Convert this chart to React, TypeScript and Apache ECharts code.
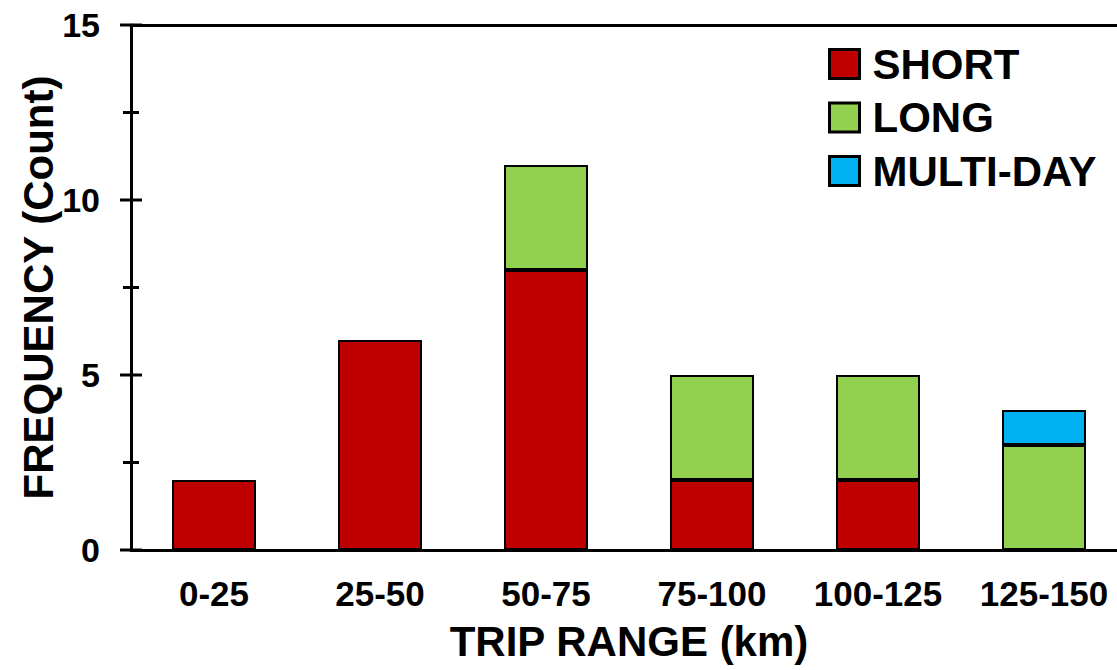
import React, { useEffect, useRef } from "react";
import * as echarts from "echarts";

// Trip-range bins (km) and trip counts per trip type
const categories = ["0-25", "25-50", "50-75", "75-100", "100-125", "125-150"];
const shortTrips = [2, 6, 8, 2, 2, null];
const longTrips = [null, null, 3, 3, 3, 3];
const multiDayTrips = [null, null, null, null, null, 1];

// Y axis range and tick marks (labelled majors, unlabelled minors)
const yMin = 0;
const yMax = 15;
const yInterval = 5;
const majorTicks = [0, 5, 10, 15];
const minorTicks = [2.5, 7.5, 12.5];

const FONT = "'Liberation Sans', Arial, sans-serif";
const AXIS_COLOR = "#000";

const WIDTH = 1117;
const HEIGHT = 670;

export default function App() {
  const ref = useRef<HTMLDivElement>(null);

  useEffect(() => {
    if (!ref.current) return;
    const chart = echarts.init(ref.current, undefined, { renderer: "svg" });

    const barStyle = (color: string) => ({
      color,
      borderColor: "#000",
      borderWidth: 2,
    });

    // [x index, y value, 1 = major]
    const tickData = [
      ...majorTicks.map((v) => [0, v, 1]),
      ...minorTicks.map((v) => [0, v, 0]),
    ];

    chart.setOption({
      animation: false,
      backgroundColor: "#fff",
      textStyle: { fontFamily: FONT, fontWeight: "bold", color: "#000" },
      grid: {
        left: 131,
        right: -10,
        top: 25,
        bottom: 120,
        containLabel: false,
        outerBoundsMode: "none",
      },
      legend: {
        orient: "vertical",
        left: 828,
        top: 43,
        padding: 0,
        itemWidth: 30,
        itemHeight: 29,
        itemGap: 11.5,
        icon: "rect",
        itemStyle: { borderColor: "#000", borderWidth: 3 },
        textStyle: {
          fontFamily: FONT,
          fontWeight: "bold",
          fontSize: 42,
          color: "#000",
          padding: [0, 0, 0, 8],
        },
        data: ["SHORT", "LONG", "MULTI-DAY"],
      },
      xAxis: [
        {
          type: "category",
          data: categories,
          name: "TRIP RANGE (km)",
          nameLocation: "middle",
          nameGap: 70,
          nameMoveOverlap: false,
          nameTextStyle: { fontFamily: FONT, fontWeight: "bold", fontSize: 42, color: "#000" },
          axisLine: { lineStyle: { color: AXIS_COLOR, width: 3 } },
          axisTick: { show: false },
          axisLabel: {
            interval: 0,
            fontFamily: FONT,
            fontWeight: "bold",
            fontSize: 35,
            color: "#000",
            margin: 26,
          },
        },
        {
          // plot frame line along the top edge
          type: "category",
          data: categories,
          position: "top",
          axisLine: { show: true, onZero: false, lineStyle: { color: AXIS_COLOR, width: 3 } },
          axisTick: { show: false },
          axisLabel: { show: false },
        },
      ],
      yAxis: {
        type: "value",
        min: yMin,
        max: yMax,
        interval: yInterval,
        splitLine: { show: false },
        name: "FREQUENCY (Count)",
        nameLocation: "middle",
        nameGap: 72,
        nameMoveOverlap: false,
        nameTextStyle: { fontFamily: FONT, fontWeight: "bold", fontSize: 42, color: "#000" },
        axisLine: { show: true, lineStyle: { color: AXIS_COLOR, width: 3 } },
        axisTick: { show: false },
        minorTick: { show: false },
        axisLabel: {
          fontFamily: FONT,
          fontWeight: "bold",
          fontSize: 34,
          color: "#000",
          margin: 31,
        },
      },
      series: [
        {
          name: "SHORT",
          type: "bar",
          stack: "trips",
          barWidth: "50.6%",
          data: shortTrips,
          itemStyle: barStyle("#C00000"),
        },
        {
          name: "LONG",
          type: "bar",
          stack: "trips",
          barWidth: "50.6%",
          data: longTrips,
          itemStyle: barStyle("#92D050"),
        },
        {
          name: "MULTI-DAY",
          type: "bar",
          stack: "trips",
          barWidth: "50.6%",
          data: multiDayTrips,
          itemStyle: barStyle("#00B0F0"),
        },
        {
          // tick marks crossing the y axis line
          name: "y-ticks",
          type: "custom",
          silent: true,
          clip: false,
          z: 5,
          encode: { x: 0, y: 1 },
          data: tickData,
          renderItem: (params: any, api: any) => {
            const pt = api.coord([0, api.value(1)]);
            const x0 = params.coordSys.x;
            const half = api.value(2) ? 11 : 8;
            return {
              type: "line",
              shape: { x1: x0 - half, y1: pt[1], x2: x0 + half, y2: pt[1] },
              style: { stroke: AXIS_COLOR, lineWidth: 3 },
            };
          },
        },
      ],
    });

    return () => chart.dispose();
  }, []);

  return (
    <div
      ref={ref}
      style={{ position: "fixed", left: 0, top: 0, width: WIDTH, height: HEIGHT }}
    />
  );
}
